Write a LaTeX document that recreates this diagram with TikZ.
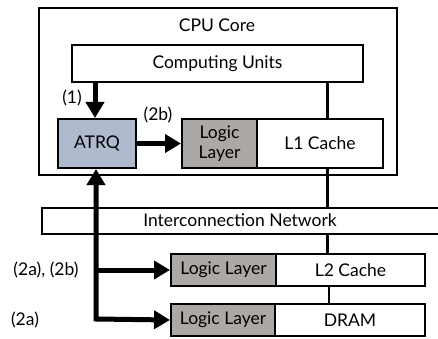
\documentclass[tikz,border=0pt]{standalone}
\usepackage{fontspec}
\setmainfont{Lato}
\usetikzlibrary{arrows.meta}
\definecolor{atrqfill}{RGB}{175,186,207}
\definecolor{logicfill}{RGB}{172,168,166}
\tikzset{
  box/.style={draw=black, line width=2pt, fill=white},
  logicbox/.style={box, fill=logicfill},
  lbl/.style={font=\fontsize{17.5}{19}\selectfont, inner sep=0pt},
  bigarr/.style={line width=5pt, -{Triangle[length=16pt,width=18pt]}},
  link/.style={line width=3pt},
  thinlink/.style={line width=2pt},
}
\begin{document}
\begin{tikzpicture}[x=1pt,y=-1pt]
\useasboundingbox (0,0) rectangle (438,339);
\begin{scope}
\clip (0,0) rectangle (438,339);
% CPU core
\node[box, minimum width=358pt, minimum height=167pt, anchor=north west, inner sep=0pt] (cpu) at (38,7) {};
\node[lbl] (cputxt) at (217,25) {CPU Core};
% computing units
\node[box, minimum width=291pt, minimum height=37pt, anchor=north west, inner sep=0pt, lbl] (cu) at (71,44) {Computing Units};
% ATRQ
\node[box, fill=atrqfill, minimum width=78pt, minimum height=49pt, anchor=north west, inner sep=0pt, lbl] (atrq) at (57,118) {ATRQ};
% L1
\node[logicbox, minimum width=75pt, minimum height=49pt, anchor=north west, inner sep=0pt, lbl, align=center, font=\fontsize{17.5}{20}\selectfont] (l1logic) at (181,118) {Logic\\Layer};
\node[box, minimum width=126pt, minimum height=49pt, anchor=north west, inner sep=0pt, lbl] (l1) at (256,118) {L1 Cache};
% interconnection network
\node[box, minimum width=420pt, minimum height=26pt, anchor=north west, inner sep=0pt] (in) at (41,207) {};
\node[lbl] (intxt) at (240,220) {Interconnection Network};
% L2
\node[logicbox, minimum width=105pt, minimum height=32pt, anchor=north west, inner sep=0pt, lbl] (l2logic) at (170,253) {Logic Layer};
\node[box, minimum width=149pt, minimum height=32pt, anchor=north west, inner sep=0pt, lbl] (l2) at (275,253) {L2 Cache};
% DRAM
\node[logicbox, minimum width=104pt, minimum height=32pt, anchor=north west, inner sep=0pt, lbl] (dlogic) at (170,303) {Logic Layer};
\node[box, minimum width=150pt, minimum height=32pt, anchor=north west, inner sep=0pt, lbl] (dram) at (274,303) {DRAM};
\end{scope}
% links
\draw[link] (cu.south -| 327,0) -- (l1.north -| 327,0);
\draw[link] (l1.south -| 327,0) -- (in.north -| 327,0);
\draw[link] (in.south -| 327,0) -- (l2.north -| 327,0);
\draw[thinlink] (l2.south -| 329,0) -- (dram.north -| 329,0);
% arrows
\draw[bigarr] (cu.south -| 95,0) -- (atrq.north -| 95,0);
\draw[bigarr] (atrq.east) -- (l1logic.west);
\coordinate (corner) at (96,319);
\draw[line width=5pt, line join=miter, {Triangle[length=16pt,width=18pt]}-{Triangle[length=16pt,width=18pt]}] (dlogic.west) -- (corner) -- (atrq.south -| corner);
\draw[bigarr] (corner |- l2logic.west) -- (l2logic.west);
% labels
\node[lbl] (l1lab) at (72,98) {(1)};
\node[lbl] (l2blab) at (158,115) {(2b)};
\node[lbl] (l2ablab) at (46,270) {(2a), (2b)};
\node[lbl] (l2alab) at (25,320) {(2a)};
\end{tikzpicture}
\end{document}
